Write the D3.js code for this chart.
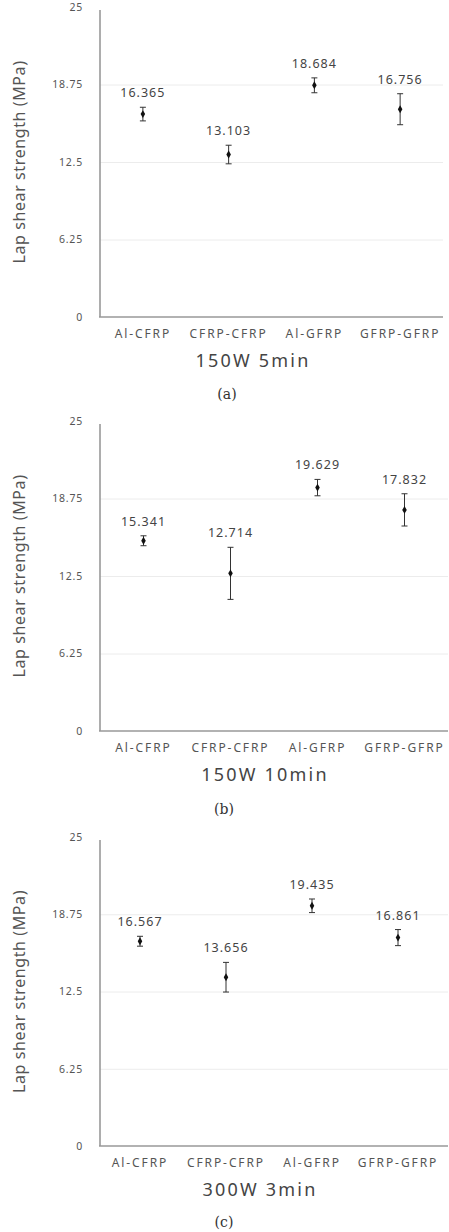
<!DOCTYPE html>
<html>
<head>
<meta charset="utf-8">
<script src="https://cdn.jsdelivr.net/npm/d3@7/dist/d3.min.js"></script>
<style>
  body { margin: 0; background: #fff; }
  svg { display: block; font-family: "Noto Sans", "Open Sans", sans-serif; }
</style>
</head>
<body>
<svg></svg>
<script>
const categories = ['Al-CFRP', 'CFRP-CFRP', 'Al-GFRP', 'GFRP-GFRP']
const yTicks = [0, 6.25, 12.5, 18.75, 25]

const means150W5 = [16.365, 13.103, 18.684, 16.756]
const err150W5 = [0.55, 0.75, 0.6, 1.25]
const means150W10 = [15.341, 12.714, 19.629, 17.832]
const err150W10 = [0.4, 2.1, 0.66, 1.3]
const means300W3 = [16.567, 13.656, 19.435, 16.861]
const err300W3 = [0.4, 1.2, 0.55, 0.65]

const titles = ['150W 5min', '150W 10min', '300W 3min']
const captions = ['(a)', '(b)', '(c)']

let width = 449
let height = 1232
let svg = d3.select('svg')
    .attr('width', width)
    .attr('height', height)

// layout of each panel (pixel positions only)
let panels = [
    { means: means150W5, errs: err150W5, top: 7, bottom: 317, x0: 100, x1: 443, axisEnd: 443, titleX: 253, capX: 227, cap: 394 },
    { means: means150W10, errs: err150W10, top: 421, bottom: 731, x0: 100, x1: 448, axisEnd: 448, titleX: 265, capX: 224, cap: 809 },
    { means: means300W3, errs: err300W3, top: 837, bottom: 1146, x0: 97, x1: 441, axisEnd: 448, titleX: 260, capX: 224, cap: 1222 }
]

panels.forEach((p, i) => {
    let g = svg.append('g')

    let yScale = d3.scaleLinear()
        .domain([0, 25])
        .range([p.bottom, p.top])

    let xScale = d3.scaleBand()
        .domain(categories)
        .range([p.x0, p.x1])

    // gridlines
    g.append('g')
        .attr('transform', 'translate(100,0)')
        .call(d3.axisLeft(yScale)
            .tickValues(yTicks.slice(1, 4))
            .tickSize(-(p.axisEnd - 100))
            .tickFormat(''))
        .call(a => a.select('.domain').remove())
        .call(a => a.selectAll('line').attr('stroke', '#ececec').attr('stroke-width', 1))

    // y axis labels
    g.append('g')
        .attr('transform', 'translate(100,0)')
        .call(d3.axisLeft(yScale)
            .tickValues(yTicks)
            .tickSize(0)
            .tickPadding(17)
            .tickFormat(d => d))
        .call(a => a.select('.domain').remove())
        .call(a => a.selectAll('text')
            .attr('font-size', 10.5)
            .attr('letter-spacing', 0.8)
            .attr('fill', '#555')
            .attr('font-family', '"Noto Sans", sans-serif'))

    // axis lines
    g.append('line')
        .attr('x1', 100).attr('x2', 100)
        .attr('y1', yScale(25) + 3).attr('y2', p.bottom)
        .attr('stroke', '#999').attr('stroke-width', 1.6)
    g.append('line')
        .attr('x1', 99).attr('x2', p.axisEnd)
        .attr('y1', p.bottom).attr('y2', p.bottom)
        .attr('stroke', '#999').attr('stroke-width', 1.6)

    // x category labels
    g.append('g')
        .attr('transform', 'translate(0,' + p.bottom + ')')
        .call(d3.axisBottom(xScale).tickSize(0).tickPadding(12))
        .call(a => a.select('.domain').remove())
        .call(a => a.selectAll('text')
            .attr('font-size', 12)
            .attr('letter-spacing', 1.9)
            .attr('fill', '#555')
            .attr('font-family', '"Noto Sans", sans-serif'))

    // x title
    g.append('text')
        .attr('x', p.titleX)
        .attr('y', p.bottom + 50)
        .attr('text-anchor', 'middle')
        .attr('font-size', 18)
        .attr('letter-spacing', 2.2)
        .attr('fill', '#444')
        .text(titles[i])

    // y title
    g.append('text')
        .attr('transform', 'translate(25,' + ((p.top + p.bottom) / 2) + ') rotate(-90)')
        .attr('text-anchor', 'middle')
        .attr('font-size', 16)
        .attr('letter-spacing', 0.6)
        .attr('fill', '#555')
        .text('Lap shear strength (MPa)')

    // caption
    g.append('text')
        .attr('x', p.capX)
        .attr('y', p.cap + 5)
        .attr('text-anchor', 'middle')
        .attr('font-size', 14)
        .attr('font-family', '"DejaVu Serif", "Liberation Serif", serif')
        .attr('fill', '#333')
        .text(captions[i])

    let rows = categories.map((c, j) => ({ cat: c, v: p.means[j], e: p.errs[j] }))
    let cx = d => xScale(d.cat) + xScale.bandwidth() / 2

    let pts = g.selectAll('.pt')
        .data(rows)
        .enter()
        .append('g')
        .attr('class', 'pt')

    // error bars
    pts.append('line')
        .attr('x1', cx).attr('x2', cx)
        .attr('y1', d => yScale(d.v + d.e))
        .attr('y2', d => yScale(d.v - d.e))
        .attr('stroke', '#333').attr('stroke-width', 1)
    pts.append('line')
        .attr('x1', d => cx(d) - 3).attr('x2', d => cx(d) + 3)
        .attr('y1', d => yScale(d.v + d.e)).attr('y2', d => yScale(d.v + d.e))
        .attr('stroke', '#333').attr('stroke-width', 1)
    pts.append('line')
        .attr('x1', d => cx(d) - 3).attr('x2', d => cx(d) + 3)
        .attr('y1', d => yScale(d.v - d.e)).attr('y2', d => yScale(d.v - d.e))
        .attr('stroke', '#333').attr('stroke-width', 1)

    // marker
    pts.append('path')
        .attr('d', d3.symbol(d3.symbolDiamond, 18))
        .attr('transform', d => 'translate(' + cx(d) + ',' + yScale(d.v) + ')')
        .attr('fill', '#111')

    // value labels
    pts.append('text')
        .attr('x', cx)
        .attr('y', d => yScale(d.v + d.e) - 10)
        .attr('text-anchor', 'middle')
        .attr('font-size', 12.5)
        .attr('letter-spacing', 1)
        .attr('fill', '#444')
        .text(d => d.v.toFixed(3))
})
</script>
</body>
</html>
